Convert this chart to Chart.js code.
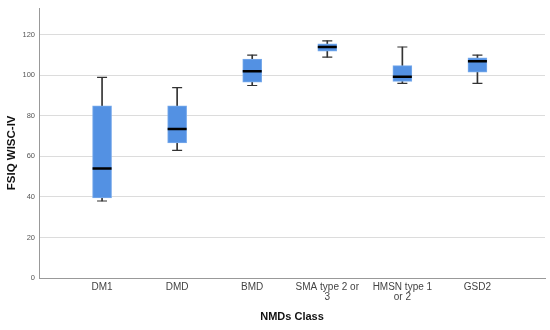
<!DOCTYPE html>
<html>
<head>
<meta charset="utf-8">
<script src="https://cdn.jsdelivr.net/npm/chart.js@4"></script>
<style>
  html, body { margin: 0; padding: 0; background: #fff; }
  #wrap { width: 550px; height: 330px; position: relative; }
</style>
</head>
<body>
<div id="wrap"><canvas id="boxChart"></canvas></div>
<script>
// categories (multi-line labels as arrays)
const categories = ['DM1', 'DMD', 'BMD', ['SMA type 2 or', '3'], ['HMSN type 1', 'or 2'], 'GSD2'];

// box plot values
const whiskerMin = [38, 63, 95, 109, 96, 96];
const quartile1 = [39.5, 66.7, 96.7, 112, 97, 101.6];
const medians = [54, 73.5, 102, 114, 99.3, 107];
const quartile3 = [85, 85, 108, 115.6, 104.8, 108.7];
const whiskerMax = [99, 94, 110, 117, 114, 110];

const yTicks = [0, 20, 40, 60, 80, 100, 120];

const boxColor = 'rgb(83, 145, 227)';
const textFont = 'Liberation Sans, Arial, sans-serif';

function stems() {
    return categories.map((c, i) => ({ x: i, y: [whiskerMin[i], whiskerMax[i]] }));
}

function boxes() {
    return categories.map((c, i) => ({ x: i, y: [quartile1[i], quartile3[i]] }));
}

function medianPoints() {
    return categories.map((c, i) => ({ x: i, y: medians[i] }));
}

function capPoints() {
    const pts = [];
    categories.forEach((c, i) => {
        pts.push({ x: i, y: whiskerMin[i] });
        pts.push({ x: i, y: whiskerMax[i] });
    });
    return pts;
}

const ctx = document.getElementById('boxChart').getContext('2d');
new Chart(ctx, {
    type: 'bar',
    data: {
        datasets: [
            {
                type: 'bar',
                data: stems(),
                backgroundColor: '#333',
                barThickness: 1,
                grouped: false,
                order: 3
            },
            {
                type: 'bar',
                data: boxes(),
                backgroundColor: boxColor,
                borderColor: 'rgb(120, 170, 235)',
                borderWidth: 1,
                borderSkipped: false,
                barThickness: 19,
                grouped: false,
                order: 2
            },
            {
                type: 'line',
                data: capPoints(),
                showLine: false,
                pointStyle: 'line',
                pointRadius: 5,
                pointBorderWidth: 1.2,
                pointBorderColor: '#333',
                order: 1
            },
            {
                type: 'line',
                data: medianPoints(),
                showLine: false,
                pointStyle: 'line',
                pointRadius: 9.5,
                pointBorderWidth: 2.5,
                pointBorderColor: '#000',
                order: 0
            }
        ]
    },
    options: {
        responsive: true,
        maintainAspectRatio: false,
        animation: false,
        layout: { autoPadding: false, padding: { left: 0, right: 5, top: 4, bottom: 0 } },
        plugins: {
            legend: { display: false },
            tooltip: { enabled: false }
        },
        scales: {
            x: {
                type: 'linear',
                offset: false,
                min: -0.84,
                max: 5.9,
                grid: { display: false, drawTicks: false },
                border: { display: true, color: '#999', width: 1 },
                afterBuildTicks: (scale) => {
                    scale.ticks = categories.map((c, i) => ({ value: i }));
                },
                afterFit: (scale) => {
                    scale.height = 52;
                    scale.paddingLeft = 0;
                    scale.paddingRight = 0;
                },
                ticks: {
                    autoSkip: false,
                    maxRotation: 0,
                    padding: 4,
                    color: '#444',
                    font: { family: textFont, size: 10, lineHeight: 1.0 },
                    callback: (v) => categories[v]
                },
                title: {
                    display: true,
                    text: 'NMDs Class',
                    color: '#111',
                    font: { family: textFont, size: 11, weight: 'bold' },
                    padding: { top: 4, bottom: 6 }
                }
            },
            y: {
                min: 0,
                max: 133,
                grid: { color: '#dcdcdc', drawTicks: false },
                border: { display: true, color: '#999', width: 1 },
                afterBuildTicks: (scale) => {
                    scale.ticks = yTicks.map(v => ({ value: v }));
                },
                afterFit: (scale) => { scale.width = 39; },
                ticks: {
                    padding: 4,
                    color: '#555',
                    font: { family: textFont, size: 7.5 }
                },
                title: {
                    display: true,
                    // trailing spaces nudge the rotated title down a little
                    text: 'FSIQ WISC-IV      ',
                    color: '#111',
                    font: { family: textFont, size: 11.5, weight: 'bold' },
                    padding: { top: 5, bottom: 0 }
                }
            }
        }
    }
});
</script>
</body>
</html>
